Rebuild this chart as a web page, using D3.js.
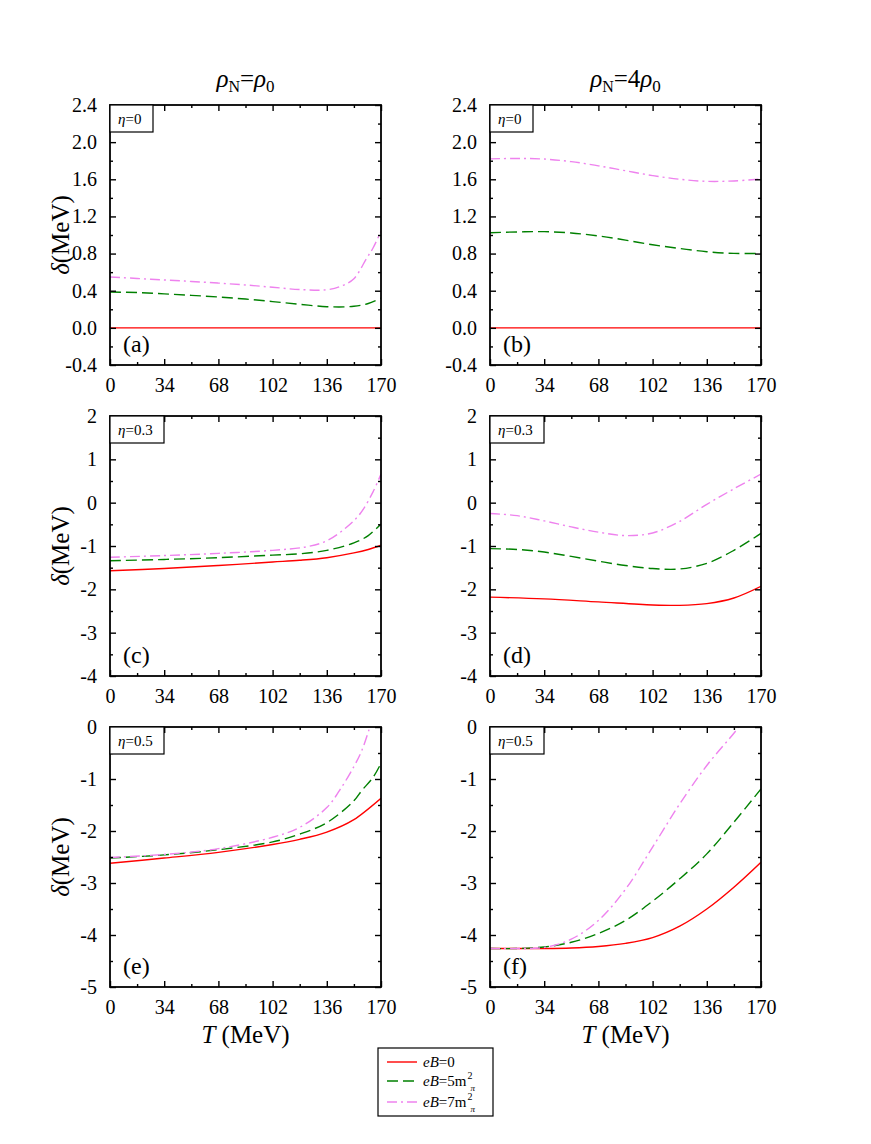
<!DOCTYPE html>
<html><head><meta charset="utf-8">
<script src="https://cdn.jsdelivr.net/npm/d3@7"></script>
<style>
body{margin:0;background:#fff}
text{font-family:"Liberation Serif","Times New Roman",serif;fill:#000}
</style>
</head><body>
<svg id="c" width="871" height="1144"></svg>
<script>
// ---------- data ----------
const xMajor = [0,34,68,102,136,170];
const xMinor = [17,51,85,119,153];
const yMajorTop = [-0.4,0,0.4,0.8,1.2,1.6,2.0,2.4];
const yMinorTop = [-0.2,0.2,0.6,1.0,1.4,1.8,2.2];
const yMajorMid = [-4,-3,-2,-1,0,1,2];
const yMinorMid = [-3.5,-2.5,-1.5,-0.5,0.5,1.5];
const yMajorBot = [-5,-4,-3,-2,-1,0];
const yMinorBot = [-4.5,-3.5,-2.5,-1.5,-0.5];
const colTitles = ["=", "=4"];
const etaLabels = ["0","0.3","0.5"];
const panelLabels = ["(a)","(b)","(c)","(d)","(e)","(f)"];
const legendLabels = ["0","5m","7m"];

// panel (a)  rho_N = rho_0, eta = 0
const a_eB0 = [[0,0],[170,0]];
const a_eB5 = [[0,0.386],[17,0.38],[34,0.366],[51,0.35],[68,0.332],[85,0.31],[102,0.283],[119,0.254],[136,0.228],[153,0.232],[162,0.262],[170,0.32]];
const a_eB7 = [[0,0.548],[17,0.532],[34,0.516],[51,0.5],[68,0.482],[85,0.462],[102,0.437],[119,0.413],[136,0.41],[145,0.45],[153,0.53],[161,0.75],[165,0.86],[170,1.04]];
// panel (b)  rho_N = 4 rho_0, eta = 0
const b_eB0 = [[0,0],[170,0]];
const b_eB5 = [[0,1.025],[17,1.033],[34,1.036],[51,1.022],[68,0.99],[85,0.945],[102,0.895],[119,0.855],[136,0.82],[153,0.802],[170,0.802]];
const b_eB7 = [[0,1.82],[17,1.824],[34,1.818],[51,1.79],[68,1.745],[85,1.692],[102,1.64],[119,1.6],[136,1.578],[153,1.582],[170,1.603]];
// panel (c)  rho_N = rho_0, eta = 0.3
const c_eB0 = [[0,-1.57],[34,-1.52],[68,-1.45],[102,-1.37],[119,-1.33],[136,-1.27],[153,-1.16],[162,-1.08],[170,-0.98]];
const c_eB5 = [[0,-1.34],[34,-1.31],[68,-1.27],[102,-1.21],[119,-1.18],[136,-1.1],[153,-0.93],[162,-0.76],[170,-0.49]];
const c_eB7 = [[0,-1.26],[34,-1.22],[68,-1.17],[102,-1.1],[123,-1.02],[136,-0.88],[148,-0.58],[157,-0.25],[165,0.25],[170,0.66]];
// panel (d)  rho_N = 4 rho_0, eta = 0.3
const d_eB0 = [[0,-2.18],[34,-2.22],[68,-2.29],[102,-2.36],[119,-2.37],[136,-2.33],[153,-2.2],[170,-1.93]];
const d_eB5 = [[0,-1.06],[17,-1.08],[34,-1.14],[51,-1.24],[68,-1.35],[85,-1.45],[102,-1.52],[119,-1.53],[136,-1.4],[153,-1.1],[170,-0.71]];
const d_eB7 = [[0,-0.25],[17,-0.3],[34,-0.42],[51,-0.56],[68,-0.68],[85,-0.76],[102,-0.7],[119,-0.43],[136,-0.04],[153,0.32],[170,0.66]];
// panel (e)  rho_N = rho_0, eta = 0.5
const e_eB0 = [[0,-2.62],[34,-2.52],[68,-2.41],[102,-2.26],[119,-2.16],[136,-2.02],[153,-1.78],[170,-1.37]];
const e_eB5 = [[0,-2.52],[34,-2.46],[68,-2.36],[102,-2.21],[119,-2.06],[136,-1.84],[153,-1.42],[158,-1.22],[165,-0.97],[170,-0.7]];
const e_eB7 = [[0,-2.51],[34,-2.45],[68,-2.34],[102,-2.12],[119,-1.93],[136,-1.55],[144,-1.22],[153,-0.76],[158,-0.45],[163,0]];
// panel (f)  rho_N = 4 rho_0, eta = 0.5
const f_eB0 = [[0,-4.26],[17,-4.26],[34,-4.26],[51,-4.25],[68,-4.22],[85,-4.16],[102,-4.05],[119,-3.83],[136,-3.5],[153,-3.08],[170,-2.6]];
const f_eB5 = [[0,-4.26],[17,-4.26],[34,-4.23],[51,-4.14],[68,-3.97],[85,-3.72],[102,-3.35],[119,-2.92],[136,-2.44],[153,-1.83],[170,-1.19]];
const f_eB7 = [[0,-4.26],[17,-4.26],[34,-4.24],[51,-4.08],[68,-3.72],[85,-3.12],[102,-2.31],[119,-1.48],[136,-0.74],[153,-0.12],[156,0]];

// ---------- layout ----------
const svg = d3.select("#c");
const colX = [110, 490];
const rowY = [105, 416, 727];
const W = 271, H = 260;
const styles = [
  {color:"#ff0000", dash:null},
  {color:"#008000", dash:"11,5"},
  {color:"#ee82ee", dash:"10,4,2,4"}
];
const rows = [
  {domain:[-0.4,2.4], major:yMajorTop, minor:yMinorTop, fmt:v=>v.toFixed(1)},
  {domain:[-4,2], major:yMajorMid, minor:yMinorMid, fmt:v=>String(v)},
  {domain:[-5,0], major:yMajorBot, minor:yMinorBot, fmt:v=>String(v)}
];
const seriesByPanel = [
  [a_eB0,a_eB5,a_eB7],[b_eB0,b_eB5,b_eB7],
  [c_eB0,c_eB5,c_eB7],[d_eB0,d_eB5,d_eB7],
  [e_eB0,e_eB5,e_eB7],[f_eB0,f_eB5,f_eB7]
];

const defs = svg.append("defs");

for (let r=0;r<3;r++){
  for (let c=0;c<2;c++){
    const idx = r*2+c;
    const R = rows[r];
    const g = svg.append("g").attr("transform",`translate(${colX[c]},${rowY[r]})`);
    const x = d3.scaleLinear().domain([0,170]).range([0,W]);
    const y = d3.scaleLinear().domain(R.domain).range([H,0]);

    defs.append("clipPath").attr("id","clip"+idx)
      .append("rect").attr("width",W).attr("height",H);

    // lines
    const line = d3.line().x(d=>x(d[0])).y(d=>y(d[1])).curve(d3.curveCatmullRom.alpha(0.5));
    const lg = g.append("g").attr("clip-path",`url(#clip${idx})`);
    seriesByPanel[idx].forEach((s,i)=>{
      lg.append("path").datum(s).attr("d",line)
        .attr("fill","none").attr("stroke",styles[i].color)
        .attr("stroke-width",1.4)
        .attr("stroke-dasharray",styles[i].dash);
    });

    // axes
    const tickStyle = sel => { sel.select(".domain").remove(); sel.selectAll("line").attr("stroke","#000").attr("stroke-width",1.4); };
    g.append("g").call(d3.axisLeft(y).tickValues(R.major).tickSize(-6).tickPadding(13).tickFormat(R.fmt))
      .call(tickStyle)
      .call(s=>s.selectAll("text").attr("font-size",20).attr("font-family","Liberation Serif"));
    g.append("g").call(d3.axisLeft(y).tickValues(R.minor).tickSize(-3).tickFormat("")).call(tickStyle);
    g.append("g").attr("transform",`translate(${W},0)`).call(d3.axisRight(y).tickValues(R.major).tickSize(-6).tickFormat("")).call(tickStyle);
    g.append("g").attr("transform",`translate(${W},0)`).call(d3.axisRight(y).tickValues(R.minor).tickSize(-3).tickFormat("")).call(tickStyle);
    g.append("g").attr("transform",`translate(0,${H})`).call(d3.axisBottom(x).tickValues(xMajor).tickSize(-6).tickPadding(13).tickFormat(d=>String(d)))
      .call(tickStyle)
      .call(s=>s.selectAll("text").attr("font-size",20).attr("font-family","Liberation Serif"));
    g.append("g").attr("transform",`translate(0,${H})`).call(d3.axisBottom(x).tickValues(xMinor).tickSize(-3).tickFormat("")).call(tickStyle);
    g.append("g").call(d3.axisTop(x).tickValues(xMajor).tickSize(-6).tickFormat("")).call(tickStyle);
    g.append("g").call(d3.axisTop(x).tickValues(xMinor).tickSize(-3).tickFormat("")).call(tickStyle);

    // frame
    g.append("rect").attr("width",W).attr("height",H).attr("fill","none")
      .attr("stroke","#000").attr("stroke-width",1.8);

    // eta box
    const bw = r===0 ? 43 : 54;
    g.append("rect").attr("x",0).attr("y",0).attr("width",bw).attr("height",27)
      .attr("fill","#fff").attr("stroke","#000").attr("stroke-width",1.2);
    const et = g.append("text").attr("x",8).attr("y",19).attr("font-size",15);
    et.append("tspan").attr("font-style","italic").text("η");
    et.append("tspan").text("="+etaLabels[r]);

    // panel label
    g.append("text").attr("x",13).attr("y",H-13).attr("font-size",24).text(panelLabels[idx]);

    // y title
    if (c===0){
      const yt = svg.append("text")
        .attr("transform",`translate(69,${rowY[r]+H/2}) rotate(-90)`)
        .attr("text-anchor","middle").attr("font-size",25);
      yt.append("tspan").attr("font-style","italic").text("δ");
      yt.append("tspan").text("(MeV)");
    }
    // x title
    if (r===2){
      const xt = svg.append("text").attr("x",colX[c]+W/2).attr("y",rowY[r]+H+56)
        .attr("text-anchor","middle").attr("font-size",25);
      xt.append("tspan").attr("font-style","italic").text("T");
      xt.append("tspan").text(" (MeV)");
    }
    // column title
    if (r===0){
      const tt = svg.append("text").attr("x",colX[c]+W/2).attr("y",87)
        .attr("text-anchor","middle").attr("font-size",25);
      tt.append("tspan").attr("font-style","italic").text("ρ");
      tt.append("tspan").attr("font-size",16).attr("dy",5).text("N");
      tt.append("tspan").attr("dy",-5).text(colTitles[c]);
      tt.append("tspan").attr("font-style","italic").text("ρ");
      tt.append("tspan").attr("font-size",17).attr("dy",5).text("0");
    }
  }
}

// ---------- legend ----------
const lgd = svg.append("g").attr("transform","translate(378,1048)");
lgd.append("rect").attr("width",115).attr("height",68).attr("fill","#fff")
  .attr("stroke","#000").attr("stroke-width",1.2);
const ly = [14,33,54];
legendLabels.forEach((lab,i)=>{
  lgd.append("line").attr("x1",9).attr("x2",39).attr("y1",ly[i]).attr("y2",ly[i])
    .attr("stroke",styles[i].color).attr("stroke-width",1.4)
    .attr("stroke-dasharray", i===1 ? "11,5" : (i===2 ? "10,4,2,4" : null));
  const t = lgd.append("text").attr("x",45).attr("y",ly[i]+5).attr("font-size",15);
  t.append("tspan").attr("font-style","italic").text("eB");
  t.append("tspan").text("="+lab);
  if (i>0){
    const bx = t.node().getComputedTextLength();
    lgd.append("text").attr("x",45+bx+1).attr("y",ly[i]-2).attr("font-size",10).text("2");
    lgd.append("text").attr("x",45+bx+4).attr("y",ly[i]+10).attr("font-size",9).attr("font-style","italic").text("π");
  }
});
</script>
</body></html>
